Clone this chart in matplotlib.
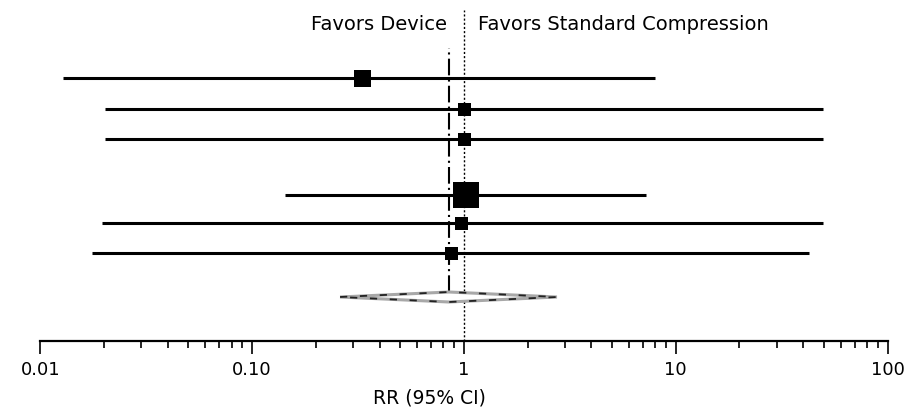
import matplotlib
matplotlib.use("Agg")
import matplotlib.pyplot as plt
from matplotlib.patches import Polygon

# ---- data ----
studies_rr = [0.33, 1.0, 1.0, 1.02, 0.97, 0.87]
studies_lo = [0.0128, 0.0202, 0.0202, 0.143, 0.0195, 0.0175]
studies_hi = [8.0, 49.5, 49.5, 7.2, 49.5, 42.5]
marker_px = [17, 13, 13, 27, 13, 13]
pooled_rr = 0.85
pooled_lo = 0.26
pooled_hi = 2.75
tick_vals = [0.01, 0.1, 1, 10, 100]
tick_labels = ["0.01", "0.10", "1", "10", "100"]
xlabel = "RR (95% CI)"
left_text = "Favors Device"
right_text = "Favors Standard Compression"

# layout (row positions, pixel-like units up from axis)
row_y = [263, 232, 202, 146, 118, 88]
diamond_y = 44

plt.rcParams["font.family"] = ["DejaVu Sans"]

W, H = 906, 411
ax_l, ax_r, ax_b, ax_t = 40.4, 887.5, 341, 10
fig = plt.figure(figsize=(W / 100, H / 100), dpi=100)
ax = fig.add_axes([ax_l / W, (H - ax_b) / H, (ax_r - ax_l) / W, (ax_b - ax_t) / H])
ax.set_xscale("log")
ax.set_xlim(0.01, 100)
ax.set_ylim(0, ax_b - ax_t)

# reference line at 1
ax.axvline(1, ymin=0, ymax=1, color="black", lw=1.0, ls=(0, (1.5, 1.5)), zorder=1)
# pooled estimate line
ax.plot([pooled_rr, pooled_rr], [diamond_y + 5, 293], color="black", lw=1.5,
        ls=(0, (8, 2, 1, 2)), zorder=1)

for y, rr, lo, hi, s in zip(row_y, studies_rr, studies_lo, studies_hi, marker_px):
    ax.plot([lo, hi], [y, y], color="black", lw=2.2, solid_capstyle="butt", zorder=2)
    ax.plot([rr], [y], marker="s", ms=s * 0.72, color="black", mec="black", mew=0, zorder=3)

verts = [(pooled_lo, diamond_y), (pooled_rr, diamond_y + 5),
         (pooled_hi, diamond_y), (pooled_rr, diamond_y - 5)]
ax.add_patch(Polygon(verts, closed=True, facecolor="white", edgecolor="#a8a8a8",
                     lw=2.2, zorder=2))
ax.add_patch(Polygon(verts, closed=True, fill=False, edgecolor="#222222",
                     lw=1.3, ls=(0, (4, 7)), zorder=2))

for sp in ["top", "right", "left"]:
    ax.spines[sp].set_visible(False)
ax.spines["bottom"].set_linewidth(1.6)
ax.set_yticks([])
ax.set_xticks(tick_vals)
ax.set_xticklabels(tick_labels, fontsize=13)
ax.tick_params(axis="x", which="major", direction="out", length=9.5, width=1.2, pad=5)
ax.tick_params(axis="x", which="minor", direction="out", length=5, width=1.2)
ax.set_xlabel(xlabel, fontsize=13.5)
ax.xaxis.set_label_coords((429 - ax_l) / (ax_r - ax_l), -(398 - ax_b) / (ax_b - ax_t))
ax.xaxis.label.set_va("center")

ax.text(0.835, ax_b - 25, left_text, ha="right", va="center", fontsize=14)
ax.text(1.165, ax_b - 25, right_text, ha="left", va="center", fontsize=14)

fig.savefig("out.png", dpi=100)
